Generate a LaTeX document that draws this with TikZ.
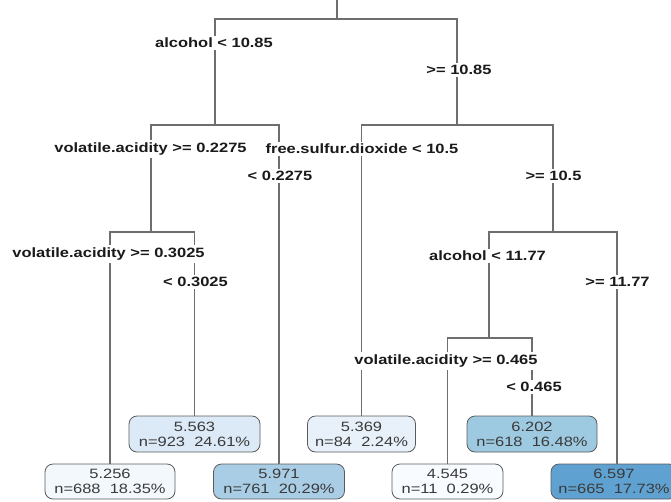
\documentclass[tikz,border=0pt]{standalone}
\usepackage{fontspec}
\setmainfont[FakeStretch=1.22]{Liberation Sans}
\definecolor{linegray}{HTML}{6E6E6E}
\definecolor{boxborder}{HTML}{5A5A5A}
\definecolor{labtext}{HTML}{1A1A1A}
\definecolor{leaftext}{HTML}{3A3A3A}
\definecolor{fA}{HTML}{F3F8FD}
\definecolor{fB}{HTML}{DCE9F6}
\definecolor{fC}{HTML}{AACDE6}
\definecolor{fD}{HTML}{E8F1FA}
\definecolor{fE}{HTML}{9ECAE1}
\definecolor{fF}{HTML}{F8FBFF}
\definecolor{fG}{HTML}{5FA2D2}
\newcommand\mylabfont{\bfseries\fontsize{13.5}{15}\selectfont}
\newcommand\myleaffont{\fontsize{13.5}{15}\selectfont}
\begin{document}
\begin{tikzpicture}[x=1pt,y=-1pt,
  edge/.style={draw=linegray,line width=1.3pt},
  lab/.style={fill=white,inner xsep=1.5pt,inner ysep=2.5pt,font=\mylabfont,text=labtext},
  leaf/.style={draw=boxborder,line width=0.8pt,rounded corners=8pt,minimum height=36pt,align=center,font=\myleaffont,text=leaftext,inner sep=0pt}]
\useasboundingbox (0,0) rectangle (671,501);
% junctions
\coordinate (top) at (337,0);
\coordinate (j0) at (337,19);
\coordinate (j1) at (215,125);
\coordinate (j2) at (457,125);
\coordinate (j3) at (151,232);
\coordinate (j4) at (553,232);
\coordinate (j5) at (489,338);
% leaves
\node[leaf,fill=fA,minimum width=130pt,minimum height=35pt] (l5256) at (110,481.5) {5.256\\n=688\ \ 18.35\%};
\node[leaf,fill=fB,minimum width=131pt] (l5563) at (194.5,434) {5.563\\n=923\ \ 24.61\%};
\node[leaf,fill=fC,minimum width=131pt,minimum height=35pt] (l5971) at (279,481.5) {5.971\\n=761\ \ 20.29\%};
\node[leaf,fill=fD,minimum width=108pt] (l5369) at (361.5,434) {5.369\\n=84\ \ 2.24\%};
\node[leaf,fill=fE,minimum width=130pt] (l6202) at (532,434) {6.202\\n=618\ \ 16.48\%};
\node[leaf,fill=fF,minimum width=111pt,minimum height=35pt] (l4545) at (447.5,481.5) {4.545\\n=11\ \ 0.29\%};
\node[leaf,fill=fG,minimum width=126pt,minimum height=35pt] (l6597) at (614,481.5) {6.597\\n=665\ \ 17.73\%};
% connectors
\draw[edge] (top) -- (j0);
\draw[edge] (j0) -| (j1);
\draw[edge] (j0) -| (j2);
\draw[edge] (j1) -| (j3);
\draw[edge] (j1) -| (l5971.north);
\draw[edge] (j2) -| (l5369.north);
\draw[edge] (j2) -| (j4);
\draw[edge] (j3) -| (l5256.north);
\draw[edge] (j3) -| (l5563.north);
\draw[edge] (j4) -| (j5);
\draw[edge] (j4) -| ([xshift=3pt]l6597.north);
\draw[edge] (j5) -| (l4545.north);
\draw[edge] (j5) -| (l6202.north);
% labels
\node[lab] (a1) at (214,43) {alcohol < 10.85};
\node[lab] (a2) at (459,70) {>= 10.85};
\node[lab] (b1) at (150.5,149) {volatile.acidity >= 0.2275};
\node[lab] (b2) at (280,176) {< 0.2275};
\node[lab] (c1) at (362,149) {free.sulfur.dioxide < 10.5};
\node[lab] (c2) at (553.5,176) {>= 10.5};
\node[lab] (d1) at (108.5,254) {volatile.acidity >= 0.3025};
\node[lab] (d2) at (195.5,282) {< 0.3025};
\node[lab] (e1) at (487.5,256) {alcohol < 11.77};
\node[lab] (e2) at (617.5,282) {>= 11.77};
\node[lab] (f1) at (446,361) {volatile.acidity >= 0.465};
\node[lab] (f2) at (534,387) {< 0.465};
\end{tikzpicture}
\end{document}
